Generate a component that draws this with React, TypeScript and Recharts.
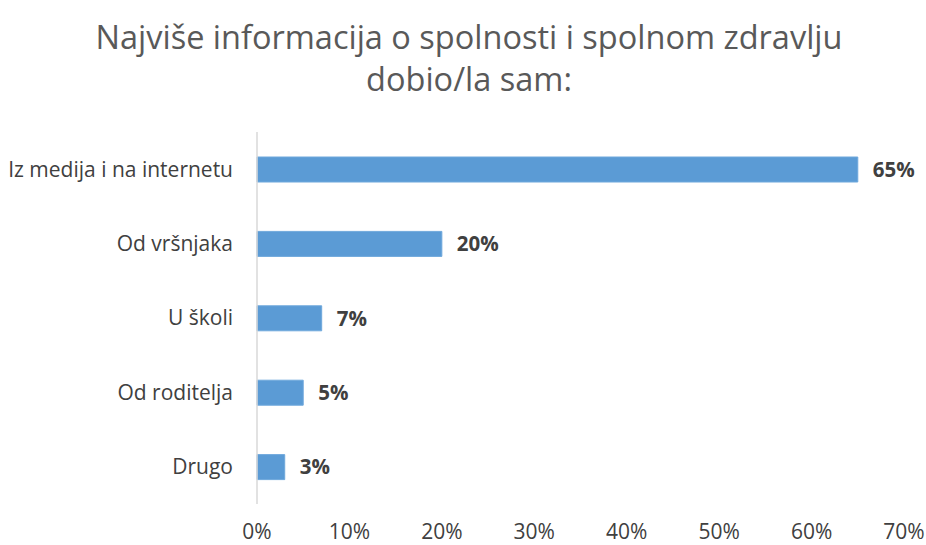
import { Bar, BarChart, LabelList, XAxis, YAxis } from "recharts";

const categories = ["Iz medija i na internetu", "Od vršnjaka", "U školi", "Od roditelja", "Drugo"];
const shares = [65, 20, 7, 5, 3];
const xTicks = [0, 10, 20, 30, 40, 50, 60, 70];

const titleLines = ["Najviše informacija o spolnosti i spolnom zdravlju", "dobio/la sam:"];

const data = categories.map((name, i) => ({ name, value: shares[i] }));

const FONT = "'Open Sans', sans-serif";

export default function App() {
  return (
    <div style={{ position: "absolute", left: 0, top: 0, width: 926, height: 545, background: "#fff", fontFamily: FONT }}>
      <div
        style={{
          position: "absolute",
          top: 16,
          left: 6,
          width: 926,
          textAlign: "center",
          color: "#595959",
          fontSize: 32.5,
          lineHeight: "42px",
        }}
      >
        {titleLines.map((t) => (
          <div key={t}>{t}</div>
        ))}
      </div>
      <BarChart
        width={926}
        height={545}
        data={data}
        layout="vertical"
        margin={{ top: 132, right: 22, left: 0, bottom: 0 }}
        barSize={25}
      >
        <XAxis
          type="number"
          domain={[0, 70]}
          ticks={xTicks}
          tickFormatter={(v) => `${v}%`}
          axisLine={false}
          tickLine={false}
          height={41}
          tickMargin={14}
          tick={{ fill: "#404040", fontSize: 21, fontFamily: FONT }}
          interval={0}
        />
        <YAxis
          type="category"
          dataKey="name"
          width={257}
          axisLine={{ stroke: "#d9d9d9", strokeWidth: 1.5 }}
          tickLine={false}
          tickMargin={18}
          tick={{ fill: "#404040", fontSize: 21, fontFamily: FONT }}
          interval={0}
        />
        <Bar dataKey="value" fill="#5b9bd5" stroke="#6fa8dc" strokeWidth={1} isAnimationActive={false}>
          <LabelList
            dataKey="value"
            position="right"
            offset={15}
            formatter={(v: number) => `${v}%`}
            style={{ fill: "#404040", fontSize: 20.5, fontWeight: 700, fontFamily: FONT }}
          />
        </Bar>
      </BarChart>
    </div>
  );
}
